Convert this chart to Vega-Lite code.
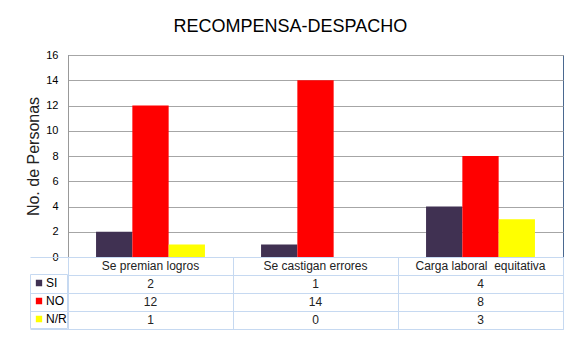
{
  "$schema": "https://vega.github.io/schema/vega-lite/v6.json",
  "background": "white",
  "padding": {"left": 25, "top": 17, "right": 20, "bottom": 8},
  "title": {"text": "RECOMPENSA-DESPACHO", "fontSize": 18, "font": "Liberation Sans", "fontWeight": "normal", "color": "#000000", "anchor": "middle", "offset": 13, "dx": -4, "frame": "bounds"},
  "data": {"values": [
    {"category": "Se premian logros", "series": "SI", "value": 2},
    {"category": "Se premian logros", "series": "NO", "value": 12},
    {"category": "Se premian logros", "series": "N/R", "value": 1},
    {"category": "Se castigan errores", "series": "SI", "value": 1},
    {"category": "Se castigan errores", "series": "NO", "value": 14},
    {"category": "Se castigan errores", "series": "N/R", "value": 0},
    {"category": "Carga laboral\u00a0 equitativa", "series": "SI", "value": 4},
    {"category": "Carga laboral\u00a0 equitativa", "series": "NO", "value": 8},
    {"category": "Carga laboral\u00a0 equitativa", "series": "N/R", "value": 3}
  ]},
  "bounds": "flush",
  "spacing": 0,
  "resolve": {"scale": {"x": "independent", "y": "independent"}, "legend": {"color": "independent"}},
  "config": {"font": "Liberation Sans"},
  "vconcat": [
    {
      "width": 495,
      "height": 202,
      "view": {"stroke": "#4a6890", "strokeWidth": 1},
      "mark": {"type": "bar"},
      "encoding": {
        "x": {"field": "category", "type": "nominal", "sort": ["Se premian logros", "Se castigan errores", "Carga laboral\u00a0 equitativa"], "scale": {"paddingInner": 0.34, "paddingOuter": 0.17}, "axis": null},
        "xOffset": {"field": "series", "type": "nominal", "sort": ["SI", "NO", "N/R"], "scale": {"paddingInner": 0, "paddingOuter": 0}},
        "y": {"field": "value", "type": "quantitative", "scale": {"domain": [0, 16], "nice": false}, "axis": {"values": [0, 2, 4, 6, 8, 10, 12, 14, 16], "grid": true, "gridColor": "#a6a6a6", "domainColor": "#999999", "ticks": false, "labelPadding": 10, "labelFontSize": 11, "labelColor": "#000000", "title": "No. de Personas", "titleFontSize": 16, "titleFontWeight": "normal", "titleColor": "#222222", "titlePadding": 4}},
        "color": {"field": "series", "type": "nominal", "scale": {"domain": ["SI", "NO", "N/R"], "range": ["#403152", "#ff0000", "#ffff00"]}, "legend": {"orient": "none", "legendX": -38, "legendY": 219, "title": null, "symbolType": "square", "symbolSize": 40, "symbolStrokeWidth": 0, "symbolOffset": 3, "labelFontSize": 12, "labelColor": "#000000", "labelOffset": 1, "clipHeight": 18, "rowPadding": 0, "padding": 0, "strokeColor": "#c6d9f1"}}
      }
    },
    {
      "width": 495,
      "height": 72,
      "view": {"stroke": "#c6d9f1"},
      "encoding": {
        "x": {"field": "category", "type": "nominal", "sort": ["Se premian logros", "Se castigan errores", "Carga laboral\u00a0 equitativa"], "scale": {"paddingInner": 0, "paddingOuter": 0}, "axis": {"grid": true, "tickBand": "extent", "labels": false, "ticks": false, "domain": false, "title": null, "gridColor": "#c6d9f1"}}
      },
      "layer": [
        {
          "mark": {"type": "text", "fontSize": 12, "color": "#222222"},
          "encoding": {
            "y": {"field": "series", "type": "nominal", "scale": {"domain": ["hdr", "SI", "NO", "N/R"], "paddingInner": 0, "paddingOuter": 0}, "axis": {"grid": true, "tickBand": "extent", "labels": false, "ticks": true, "tickSize": 38, "tickColor": {"condition": {"test": "datum.value === 'hdr'", "value": "rgba(0,0,0,0)"}, "value": "#c6d9f1"}, "domain": false, "title": null, "gridColor": "#c6d9f1"}},
            "text": {"field": "value", "type": "quantitative"}
          }
        },
        {
          "transform": [{"filter": "datum.series === 'SI'"}],
          "mark": {"type": "text", "fontSize": 12, "color": "#222222"},
          "encoding": {
            "y": {"datum": "hdr", "type": "nominal"},
            "text": {"field": "category", "type": "nominal"}
          }
        }
      ]
    }
  ]
}
